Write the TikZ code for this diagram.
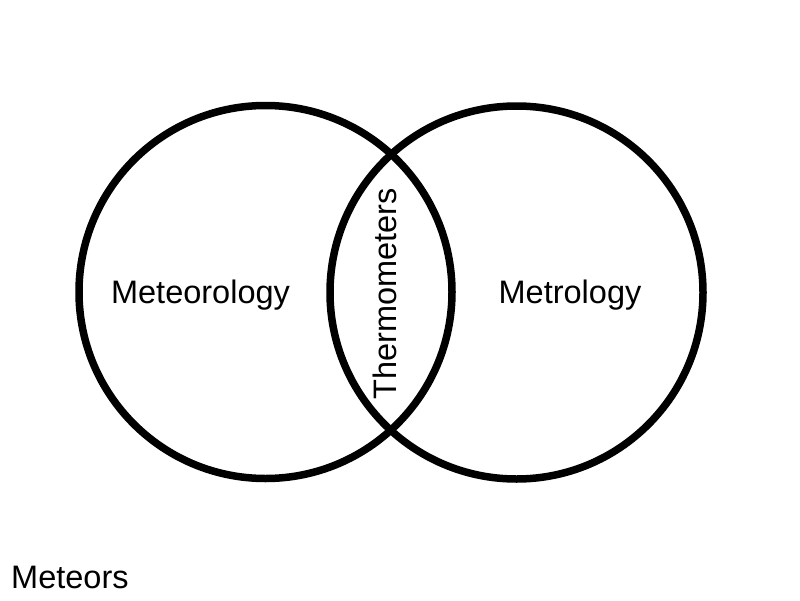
\documentclass[tikz,border=0pt]{standalone}
\usepackage{fontspec}
\setmainfont{Liberation Sans}
\usepackage{tikz}

\begin{document}
\begin{tikzpicture}[x=1pt, y=-1pt, every node/.style={font=\fontsize{32.5}{38}\selectfont, inner sep=0pt}, ring/.style={draw=black, line width=7.5pt}]
	\useasboundingbox (0,0) rectangle (800,600);
	\coordinate (L) at (265.5,292);
	\coordinate (R) at (516.5,292.5);
	\draw[ring] (L) circle (186.5pt);
	\draw[ring] (R) circle (186.5pt);
	\node[anchor=base] (meteorology) at (200.5,303) {Meteorology};
	\node[anchor=base] (metrology) at (570,303) {Metrology};
	\node[anchor=base, rotate=90] (thermo) at (396,294) {Thermometers};
	\node[anchor=base west] (meteors) at (11,588) {Meteors};
\end{tikzpicture}
\end{document}
